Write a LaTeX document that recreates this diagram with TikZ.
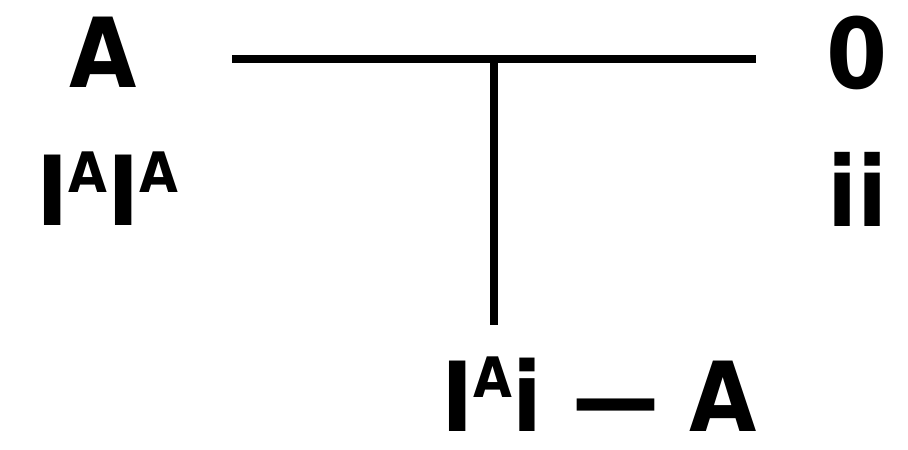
\documentclass[tikz,border=0pt]{standalone}
\usepackage{fontspec}
\setmainfont{DejaVu Sans Condensed}
\newcommand\myfs[1]{\fontsize{#1}{#1}\selectfont}
\newcommand\mysup[3]{\raisebox{#2bp}{\myfs{#1}#3}}
\begin{document}
\begin{tikzpicture}[x=1bp,y=-1bp,
  lbl/.style={inner sep=0pt,outer sep=0pt,font=\bfseries,anchor=base},
  bar/.style={line width=8.5bp,line cap=butt}]
\useasboundingbox (0,0) rectangle (908,450);
\node[lbl] (a) at (103,88) {\myfs{97}A};
\node[lbl] (z) at (857,89) {\myfs{98}0};
\node[lbl] (ll) at (107.5,226) {\myfs{97}I\mysup{56}{33}{A}I\mysup{56}{33}{A}};
\node[lbl] (ii) at (858,227) {\myfs{98}ii};
\node[lbl] (bt) at (599,431) {\myfs{97}I\mysup{56}{34}{A}i — A};
\coordinate (hl) at (232,59);
\coordinate (hr) at (756,59);
\coordinate (vt) at (494,59);
\coordinate (vb) at (494,325);
\draw[bar] (hl) -- (hr);
\draw[bar,line width=8bp] (vt) -- (vb);
\end{tikzpicture}
\end{document}
